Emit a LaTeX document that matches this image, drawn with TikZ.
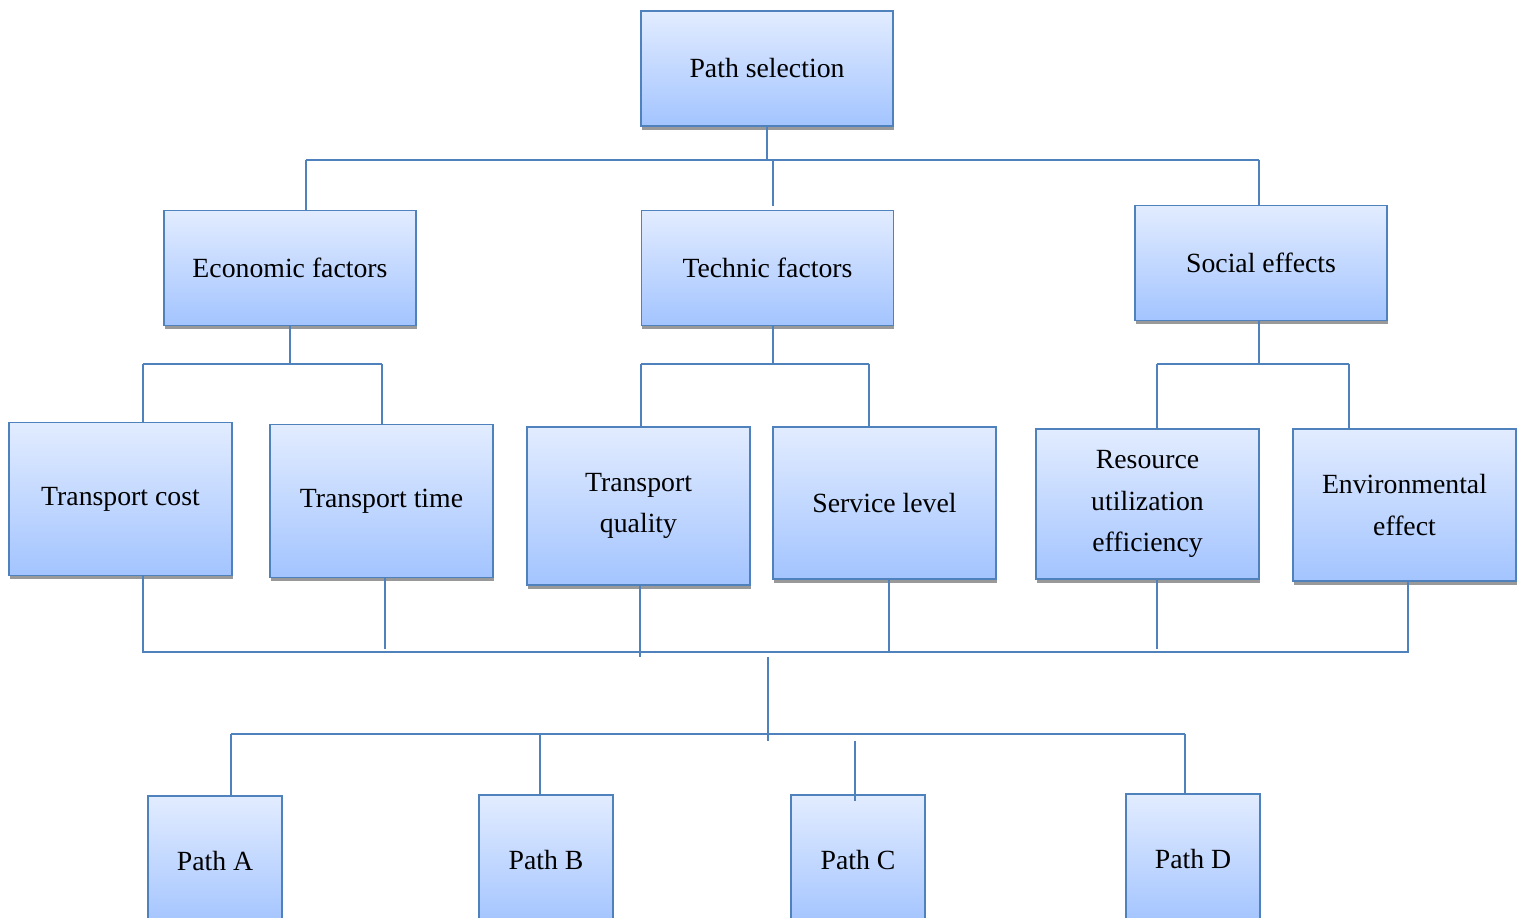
\documentclass[tikz,border=0pt]{standalone}
\usepackage{fontspec}
\setmainfont{Liberation Serif}
\usetikzlibrary{shadows}
\definecolor{linecol}{RGB}{79,129,189}
\definecolor{boxtop}{RGB}{226,236,255}
\definecolor{boxbot}{RGB}{163,196,255}

\begin{document}
\begin{tikzpicture}[
  x=0.02cm, y=-0.02cm,
  every node/.style={font=\fontsize{15.8}{23.8}\selectfont},
  box/.style={draw=linecol, line width=1.1pt, top color=boxtop, bottom color=boxbot,
    align=center, inner sep=0pt, minimum width=5.04cm, minimum height=2.3cm,
    drop shadow={shadow xshift=0.3pt, shadow yshift=-2.2pt, fill=black!40, opacity=1}},
  subbox/.style={box, minimum width=4.46cm, minimum height=3.06cm},
  pathbox/.style={draw=linecol, line width=1.1pt, top color=boxtop, bottom color=boxbot,
    inner sep=0pt, minimum width=2.68cm, minimum height=2.6cm},
  link/.style={draw=linecol, line width=1.1pt}
]
\useasboundingbox (0,0) rectangle (1525,918);
\clip (0,0) rectangle (1525,918);

% =================== goal ===================
\node[box] (root) at (767,68.5) {Path selection};

% =================== criteria ===================
\node[box] (econ) at (290,268) {Economic factors};
\node[box] (tech) at (767.5,268) {Technic factors};
\node[box] (social) at (1261,263) {Social effects};

% =================== sub-criteria ===================
\node[subbox] (cost) at (120.5,499) {Transport cost};
\node[subbox] (time) at (381.5,501) {Transport time};
\node[subbox, minimum height=3.16cm] (quality) at (638.5,506) {Transport\\quality};
\node[subbox, minimum height=3.04cm] (service) at (884.5,503) {Service level};
\node[subbox, minimum height=3cm] (resource) at (1147.5,504) {Resource\\utilization\\efficiency};
\node[subbox, minimum height=3.04cm] (env) at (1404.5,505) {Environmental\\effect};

% =================== alternatives ===================
\node[pathbox] (pathA) at (215,861) {Path A};
\node[pathbox] (pathB) at (546,860) {Path B};
\node[pathbox] (pathC) at (858,860) {Path C};
\node[pathbox] (pathD) at (1193,859) {Path D};

% =================== connectors ===================
\coordinate (topL) at (306,160);
\coordinate (topR) at (1259,160);
\draw[link] (root.south) -- (root.south |- topL);
\draw[link] (topL) -- (topR);
\draw[link] (topL) -- (topL |- econ.north);
\draw[link] (773,160) -- (773,206);
\draw[link] (topR) -- (topR |- social.north);

\coordinate (ecoL) at (143,364);
\coordinate (ecoR) at (382,364);
\draw[link] (econ.south) -- (econ.south |- ecoL);
\draw[link] (ecoL) -- (ecoR);
\draw[link] (ecoL) -- (ecoL |- cost.north);
\draw[link] (ecoR) -- (ecoR |- time.north);

\coordinate (tecL) at (641,364);
\coordinate (tecR) at (869,364);
\draw[link] (773,0 |- tech.south) -- (773,364);
\draw[link] (tecL) -- (tecR);
\draw[link] (tecL) -- (tecL |- quality.north);
\draw[link] (tecR) -- (tecR |- service.north);

\coordinate (socL) at (1157,364);
\coordinate (socR) at (1349,364);
\draw[link] (socR -| topR) -- (topR |- social.south);
\draw[link] (socL) -- (socR);
\draw[link] (socL) -- (socL |- resource.north);
\draw[link] (socR) -- (socR |- env.north);

% collector under the sub-criteria
\coordinate (colL) at (143,652);
\coordinate (colR) at (1408,652);
\draw[link] (colL |- cost.south) -- (colL) -- (colR) -- (colR |- env.south);
\foreach \n/\x/\y in {time/385/649, quality/640/657, service/889/652, resource/1157/649}
  \draw[link] (\x,0 |- \n.south) -- (\x,\y);

\coordinate (hub) at (768,657);
\coordinate (altL) at (231,734);
\coordinate (altR) at (1185,734);
\draw[link] (hub) -- (768,741);
\draw[link] (altL) -- (altR);
\draw[link] (altL) -- (altL |- pathA.north);
\draw[link] (540,734) -- (540,0 |- pathB.north);
\draw[link] (855,741) -- (855,801);
\draw[link] (altR) -- (altR |- pathD.north);

\end{tikzpicture}
\end{document}
